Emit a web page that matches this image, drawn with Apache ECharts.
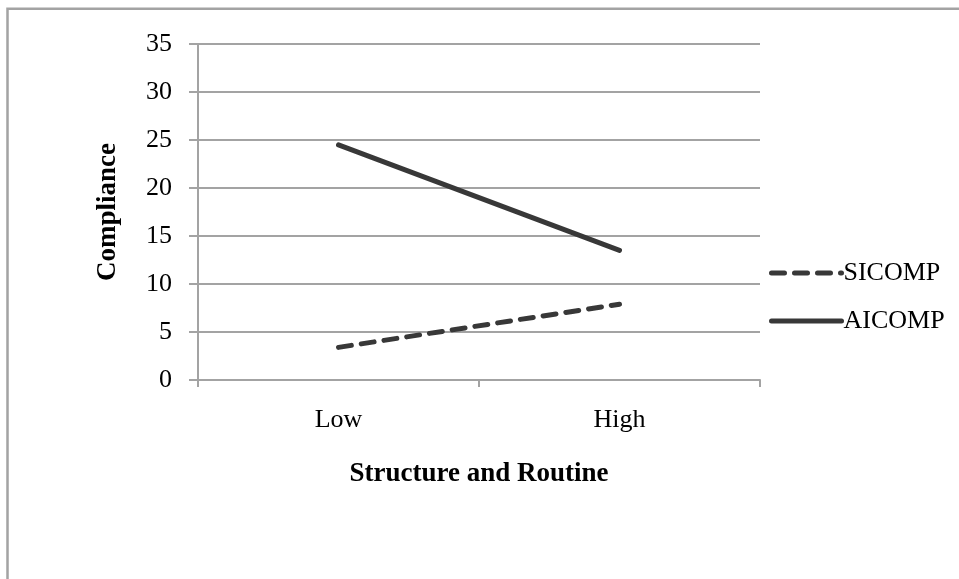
<!DOCTYPE html>
<html>
<head>
<meta charset="utf-8">
<script src="https://cdn.jsdelivr.net/npm/echarts@6/dist/echarts.min.js"></script>
<style>
html,body{margin:0;padding:0;background:#fff;}
#chart{width:959px;height:579px;}
</style>
</head>
<body>
<div id="chart"></div>
<script>
const categories = ['Low', 'High'];
const sicomp = [3.4, 7.9];
const aicomp = [24.5, 13.5];
const yTicks = { min: 0, max: 35, interval: 5 };

const FONT = '"Liberation Serif", "DejaVu Serif", serif';
const GRAY = '#a3a3a3';
const DARK = '#383838';

const chart = echarts.init(document.getElementById('chart'), null, { renderer: 'canvas' });
chart.setOption({
  backgroundColor: '#ffffff',
  animation: false,
  graphic: [{
    type: 'rect',
    shape: { x: 7.5, y: 8.8, width: 1000, height: 1000 },
    style: { fill: 'none', stroke: GRAY, lineWidth: 2.5 },
    silent: true
  }],
  grid: { left: 198, right: 199, top: 44, bottom: 199, containLabel: false },
  legend: {
    orient: 'vertical',
    left: 764,
    top: 255,
    itemWidth: 70,
    itemHeight: 22,
    itemGap: 22,
    data: ['SICOMP', 'AICOMP'],
    itemStyle: { opacity: 0 },
    lineStyle: { width: 5, cap: 'round' },
    textStyle: { fontFamily: FONT, fontSize: 26, color: '#000', padding: [0, 0, 0, -3] }
  },
  xAxis: {
    type: 'category',
    data: categories,
    boundaryGap: true,
    axisLine: { show: true, lineStyle: { color: GRAY, width: 2 } },
    axisTick: { show: true, length: 7, lineStyle: { color: GRAY, width: 2 } },
    axisLabel: { fontFamily: FONT, fontSize: 26, color: '#000', margin: 27 },
    name: 'Structure and Routine',
    nameLocation: 'middle',
    nameGap: 81,
    nameTextStyle: { fontFamily: FONT, fontSize: 27, fontWeight: 'bold', color: '#000' }
  },
  yAxis: {
    type: 'value',
    min: yTicks.min,
    max: yTicks.max,
    interval: yTicks.interval,
    axisLine: { show: true, lineStyle: { color: GRAY, width: 2 } },
    axisTick: { show: true, length: 9, lineStyle: { color: GRAY, width: 2 } },
    splitLine: { show: true, lineStyle: { color: GRAY, width: 2 } },
    axisLabel: { fontFamily: FONT, fontSize: 26, color: '#000', margin: 26 },
    name: 'Compliance',
    nameLocation: 'middle',
    nameGap: 76,
    nameTextStyle: { fontFamily: FONT, fontSize: 27, fontWeight: 'bold', color: '#000' }
  },
  series: [
    {
      name: 'SICOMP',
      type: 'line',
      data: sicomp,
      symbol: 'none',
      color: DARK,
      lineStyle: { color: DARK, width: 5, type: [13, 10], cap: 'round' }
    },
    {
      name: 'AICOMP',
      type: 'line',
      data: aicomp,
      symbol: 'none',
      color: DARK,
      lineStyle: { color: DARK, width: 5, type: 'solid', cap: 'round' }
    }
  ]
});
</script>
</body>
</html>
